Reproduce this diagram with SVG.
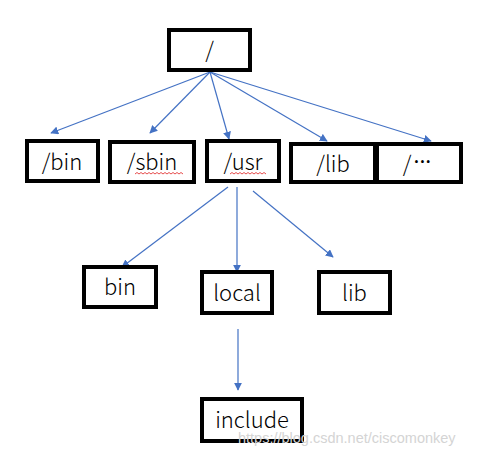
<svg xmlns="http://www.w3.org/2000/svg" width="486" height="460" viewBox="0 0 486 460">
<defs>
<style>
.box{fill:#fff;stroke:#000;stroke-width:4;}
.t{font-family:"Noto Sans CJK SC","Noto Sans",sans-serif;font-weight:300;font-size:22px;fill:#000;text-anchor:middle;}
.e{stroke:#4472C4;stroke-width:1.2;fill:none;marker-end:url(#ah);}
.sq{stroke:#e02020;stroke-width:0.8;fill:none;}
.wm{font-family:"Liberation Sans",Arial,sans-serif;font-size:14.5px;fill:#d4d4d4;}
</style>
<marker id="ah" viewBox="0 0 10 10" refX="9" refY="5" markerWidth="8" markerHeight="8" markerUnits="userSpaceOnUse" orient="auto">
<path d="M0,0 L10,5 L0,10 z" fill="#4472C4"/>
</marker>
</defs>
<rect width="486" height="460" fill="#fff"/>
<g id="connectors">
<line class="e" x1="210" y1="72" x2="51" y2="133"/>
<line class="e" x1="210" y1="72" x2="150" y2="133"/>
<line class="e" x1="210" y1="72" x2="229" y2="139"/>
<line class="e" x1="210" y1="72" x2="327" y2="141"/>
<line class="e" x1="210" y1="72" x2="431" y2="141"/>
<line class="e" x1="228" y1="187" x2="122" y2="267"/>
<line class="e" x1="237" y1="187" x2="237" y2="272"/>
<line class="e" x1="253" y1="191" x2="333" y2="257"/>
<line class="e" x1="238" y1="329" x2="238" y2="390"/>
</g>
<g id="root"><rect class="box" x="169" y="30" width="81" height="40"/><text class="t" x="209.5" y="58">/</text></g>
<g id="bin1"><rect class="box" x="27" y="141" width="71" height="40"/><text class="t" x="62" y="170">/bin</text></g>
<g id="sbin"><rect class="box" x="110" y="142" width="84" height="40"/><text class="t" x="152" y="170">/sbin</text>
<path class="sq" d="M135,174 l2,-1.5 l2,1.5 l2,-1.5 l2,1.5 l2,-1.5 l2,1.5 l2,-1.5 l2,1.5 l2,-1.5 l2,1.5 l2,-1.5 l2,1.5 l2,-1.5 l2,1.5 l2,-1.5 l2,1.5 l2,-1.5 l2,1.5 l2,-1.5 l2,1.5 l2,-1.5 l2,1.5 l2,-1.5 l2,1.5"/></g>
<g id="usr"><rect class="box" x="207" y="141" width="72" height="40"/><text class="t" x="243" y="170">/usr</text>
<path class="sq" d="M230,174 l2,-1.5 l2,1.5 l2,-1.5 l2,1.5 l2,-1.5 l2,1.5 l2,-1.5 l2,1.5 l2,-1.5 l2,1.5 l2,-1.5 l2,1.5 l2,-1.5 l2,1.5 l2,-1.5 l2,1.5 l2,-1.5 l2,1.5"/></g>
<g id="lib1"><rect class="box" x="291" y="144" width="84" height="38"/><text class="t" x="333" y="172">/lib</text></g>
<g id="etc"><rect class="box" x="377" y="144" width="84" height="38"/><text class="t" x="417" y="172">/<tspan font-family="'Noto Sans',sans-serif" font-weight="400" dx="2" dy="-3">···</tspan></text></g>
<g id="bin2"><rect class="box" x="84" y="267" width="72" height="40"/><text class="t" x="120" y="295">bin</text></g>
<g id="local"><rect class="box" x="202" y="272" width="70" height="41"/><text class="t" x="237" y="301">local</text></g>
<g id="lib2"><rect class="box" x="319" y="272" width="71" height="41"/><text class="t" x="354.5" y="301">lib</text></g>
<g id="include"><rect class="box" x="202" y="399" width="100" height="42"/><text class="t" x="252" y="428">include</text></g>
<text class="wm" x="238" y="443">https://blog.csdn.net/ciscomonkey</text>
</svg>
